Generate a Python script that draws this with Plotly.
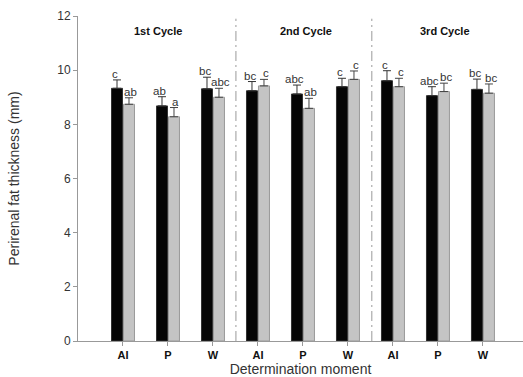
import plotly.graph_objects as go

categories = ["1st AI", "1st P", "1st W", "2nd AI", "2nd P", "2nd W", "3rd AI", "3rd P", "3rd W"]
tick_labels = ["AI", "P", "W", "AI", "P", "W", "AI", "P", "W"]

black_vals = [9.33, 8.68, 9.31, 9.24, 9.12, 9.39, 9.61, 9.06, 9.29]
black_se = [0.31, 0.34, 0.43, 0.34, 0.33, 0.31, 0.37, 0.33, 0.38]
black_letters = ["c", "ab", "bc", "bc", "abc", "c", "c", "abc", "bc"]

gray_vals = [8.74, 8.28, 9.00, 9.42, 8.59, 9.66, 9.39, 9.21, 9.15]
gray_se = [0.24, 0.34, 0.33, 0.24, 0.37, 0.31, 0.31, 0.31, 0.34]
gray_letters = ["ab", "a", "abc", "c", "ab", "c", "c", "bc", "bc"]

cycle_labels = ["1st Cycle", "2nd Cycle", "3rd Cycle"]
cycle_label_x = [0.78, 4.07, 7.16]
divider_x = [2.51, 5.53]

FONT = "Liberation Sans, Arial, sans-serif"
LETTER_FONT = "Liberation Sans Narrow, Liberation Sans, Arial, sans-serif"

fig = go.Figure()
fig.add_trace(go.Bar(
    x=categories, y=black_vals, name="black",
    marker=dict(color="#050505", line=dict(color="#333333", width=1)),
    error_y=dict(type="data", array=black_se, arrayminus=[0] * len(black_se),
                 symmetric=False, color="#333333", thickness=1, width=4),
))
fig.add_trace(go.Bar(
    x=categories, y=gray_vals, name="gray",
    marker=dict(color="#c4c4c4", line=dict(color="#9a9a9a", width=1)),
    error_y=dict(type="data", array=gray_se, arrayminus=[0] * len(gray_se),
                 symmetric=False, color="#444444", thickness=1, width=4),
))

annotations = []
for cat, v, se, lab in zip(categories, black_vals, black_se, black_letters):
    annotations.append(dict(x=cat, y=v + se, text=lab, showarrow=False, xshift=-8,
                            yanchor="bottom", yshift=-2,
                            font=dict(family=LETTER_FONT, size=11.5, color="#333333")))
for cat, v, se, lab in zip(categories, gray_vals, gray_se, gray_letters):
    annotations.append(dict(x=cat, y=v + se, text=lab, showarrow=False, xshift=8,
                            yanchor="bottom", yshift=-2,
                            font=dict(family=LETTER_FONT, size=11.5, color="#333333")))
for lab, cx in zip(cycle_labels, cycle_label_x):
    annotations.append(dict(x=cx, y=11.45, xref="x", yref="y", text="<b>" + lab + "</b>",
                            showarrow=False,
                            font=dict(family=FONT, size=11, color="#111111")))

shapes = []
for dx in divider_x:
    shapes.append(dict(type="line", x0=dx, x1=dx, y0=0, y1=11.9, xref="x", yref="y",
                       line=dict(color="#999999", width=1, dash="10px,4px,2px,4px")))

fig.update_layout(
    width=523, height=377,
    margin=dict(l=78, r=0, t=16, b=36),
    paper_bgcolor="white", plot_bgcolor="white",
    barmode="group", bargap=0.467, bargroupgap=0.083,
    showlegend=False,
    font=dict(family=FONT, size=11, color="#333333"),
    annotations=annotations, shapes=shapes,
)
fig.update_xaxes(
    range=[-1.0, 8.89], tickvals=categories, ticktext=tick_labels,
    tickfont=dict(family=FONT, size=11, color="#111111", weight="bold"),
    showline=True, linecolor="#999999", linewidth=1,
    ticks="outside", ticklen=4, tickcolor="#999999",
    showgrid=False, zeroline=False,
    title=dict(text="Determination moment", standoff=4,
               font=dict(family=FONT, size=14, color="#333333")),
)
fig.update_yaxes(
    range=[0, 12], tickvals=[0, 2, 4, 6, 8, 10, 12],
    tickfont=dict(family=FONT, size=12, color="#333333"),
    showline=True, linecolor="#999999", linewidth=1,
    ticks="outside", ticklen=4, tickcolor="#999999",
    showgrid=False, zeroline=False,
    title=dict(text="Perirenal fat thickness (mm)", standoff=34,
               font=dict(family=FONT, size=14, color="#333333")),
)

fig.write_html("out.html", config={"displayModeBar": False},
               post_script="document.body.style.margin='0';document.body.style.padding='0';")
